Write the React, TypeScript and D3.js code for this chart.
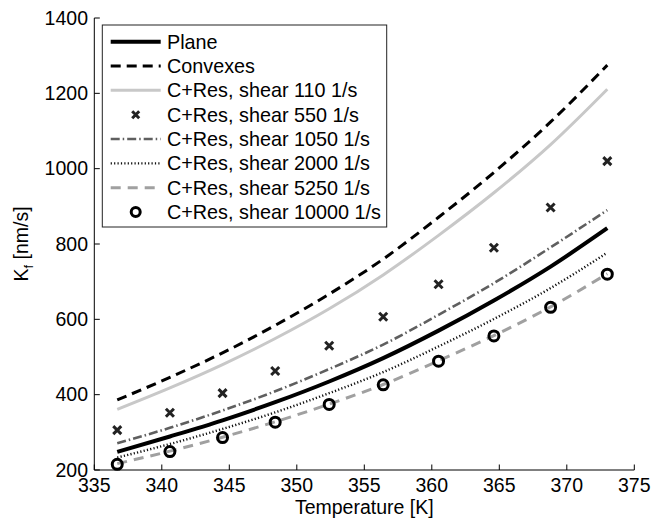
import React from "react";
import * as d3 from "d3";

const temps = [336.7, 340.6, 344.5, 348.4, 352.4, 356.4, 360.5, 364.6, 368.8, 373.0];
const plane = [248, 289, 332, 380, 435, 497, 570, 650, 740, 842];
const convexes = [386, 446, 511, 584, 667, 760, 871, 990, 1124, 1275];
const shear110 = [361, 418, 480, 549, 628, 718, 823, 936, 1064, 1211];
const shear550 = [306, 352, 404, 463, 530, 607, 693, 790, 897, 1020];
const shear1050 = [271, 312, 358, 409, 468, 533, 612, 696, 791, 890];
const shear2000 = [233, 269, 309, 353, 404, 460, 528, 601, 683, 777];
const shear5250 = [217, 250, 287, 328, 375, 427, 490, 557, 633, 721];
const shear10000 = [215, 249, 286, 327, 374, 426, 489, 556, 632, 720];

const xTicks = [335, 340, 345, 350, 355, 360, 365, 370, 375];
const yTicks = [200, 400, 600, 800, 1000, 1200, 1400];

const legendLabels = [
  "Plane",
  "Convexes",
  "C+Res, shear 110 1/s",
  "C+Res, shear 550 1/s",
  "C+Res, shear 1050 1/s",
  "C+Res, shear 2000 1/s",
  "C+Res, shear 5250 1/s",
  "C+Res, shear 10000 1/s",
];

const FONT = "'Liberation Sans', Arial, Helvetica, sans-serif";

type Style = { kind: "line" | "cross" | "circle"; stroke: string; width: number; dash?: string };

const styles: Style[] = [
  { kind: "line", stroke: "#000", width: 4 },
  { kind: "line", stroke: "#000", width: 3, dash: "10,6" },
  { kind: "line", stroke: "#c8c8c8", width: 3 },
  { kind: "cross", stroke: "#222", width: 3 },
  { kind: "line", stroke: "#5f5f5f", width: 2.6, dash: "9,3,1.5,3" },
  { kind: "line", stroke: "#111", width: 2.4, dash: "1.2,2.2" },
  { kind: "line", stroke: "#a0a0a0", width: 3, dash: "10,7" },
  { kind: "circle", stroke: "#000", width: 3 },
];

const seriesData = [plane, convexes, shear110, shear550, shear1050, shear2000, shear5250, shear10000];

function Cross({ cx, cy, s, st }: { cx: number; cy: number; s: number; st: Style }) {
  return (
    <path
      d={`M${cx - s},${cy - s}L${cx + s},${cy + s}M${cx - s},${cy + s}L${cx + s},${cy - s}`}
      stroke={st.stroke}
      strokeWidth={st.width}
      fill="none"
    />
  );
}

export default function App() {
  const W = 653, H = 522;
  const x = d3.scaleLinear().domain([335, 375]).range([94.3, 634.3]);
  const y = d3.scaleLinear().domain([200, 1400]).range([470, 18]);
  const line = d3.line<number>().x((_, i) => x(temps[i])).y((d) => y(d)).curve(d3.curveMonotoneX);

  const drawOrder = [2, 1, 4, 0, 5, 6, 3, 7];

  const legX = 102.3, legY = 25, legW = 284.4, legH = 202;
  const rowY = (i: number) => 41.7 + i * 24.33;

  return (
    <svg
      width={W}
      height={H}
      style={{ position: "absolute", left: 0, top: 0, background: "#fff" }}
      fontFamily={FONT}
    >
      <rect x={0} y={0} width={W} height={H} fill="#fff" />
      {drawOrder.map((si) => {
        const st = styles[si];
        const data = seriesData[si];
        if (st.kind === "line") {
          return (
            <path
              key={si}
              d={line(data) || ""}
              fill="none"
              stroke={st.stroke}
              strokeWidth={st.width}
              strokeDasharray={st.dash}
            />
          );
        }
        if (st.kind === "cross") {
          return (
            <g key={si}>
              {data.map((v, i) => (
                <Cross key={i} cx={x(temps[i])} cy={y(v)} s={4} st={st} />
              ))}
            </g>
          );
        }
        return (
          <g key={si}>
            {data.map((v, i) => (
              <circle key={i} cx={x(temps[i])} cy={y(v)} r={5} fill="none" stroke={st.stroke} strokeWidth={st.width} />
            ))}
          </g>
        );
      })}

      {/* axes */}
      <line x1={x(335)} x2={x(375)} y1={y(200)} y2={y(200)} stroke="#000" strokeWidth={1} />
      <line x1={x(335)} x2={x(335)} y1={y(200)} y2={y(1400)} stroke="#000" strokeWidth={1} />
      {xTicks.map((t) => (
        <g key={t}>
          <line x1={x(t)} x2={x(t)} y1={y(200)} y2={y(200) - 5.5} stroke="#000" strokeWidth={1} />
          <text x={x(t)} y={492} textAnchor="middle" fontSize={19.5} fill="#000">
            {t}
          </text>
        </g>
      ))}
      {yTicks.map((t) => (
        <g key={t}>
          <line x1={x(335)} x2={x(335) + 5.5} y1={y(t)} y2={y(t)} stroke="#000" strokeWidth={1} />
          <text x={88} y={y(t)} dy="0.35em" textAnchor="end" fontSize={19.5} fill="#000">
            {t}
          </text>
        </g>
      ))}
      <text x={(x(335) + x(375)) / 2} y={514} textAnchor="middle" fontSize={19.5} fill="#000">
        Temperature [K]
      </text>
      <text transform={`translate(28,${(y(200) + y(1400)) / 2}) rotate(-90)`} textAnchor="middle" fontSize={19.5} fill="#000">
        K<tspan fontSize={13} dy="5">f</tspan>
        <tspan dy="-5"> [nm/s]</tspan>
      </text>

      {/* legend */}
      <rect x={legX} y={legY} width={legW} height={legH} fill="#fff" stroke="#222" strokeWidth={1} />
      {legendLabels.map((lab, i) => {
        const st = styles[i];
        const cy = rowY(i);
        return (
          <g key={lab}>
            {st.kind === "line" && (
              <line x1={110.7} x2={160.7} y1={cy} y2={cy} stroke={st.stroke} strokeWidth={st.width} strokeDasharray={st.dash} />
            )}
            {st.kind === "cross" && <Cross cx={135.7} cy={cy} s={3.5} st={st} />}
            {st.kind === "circle" && (
              <circle cx={135.7} cy={cy} r={4.5} fill="none" stroke={st.stroke} strokeWidth={st.width} />
            )}
            <text x={167} y={cy} dy="0.35em" fontSize={19.8} fill="#000">
              {lab}
            </text>
          </g>
        );
      })}
    </svg>
  );
}
